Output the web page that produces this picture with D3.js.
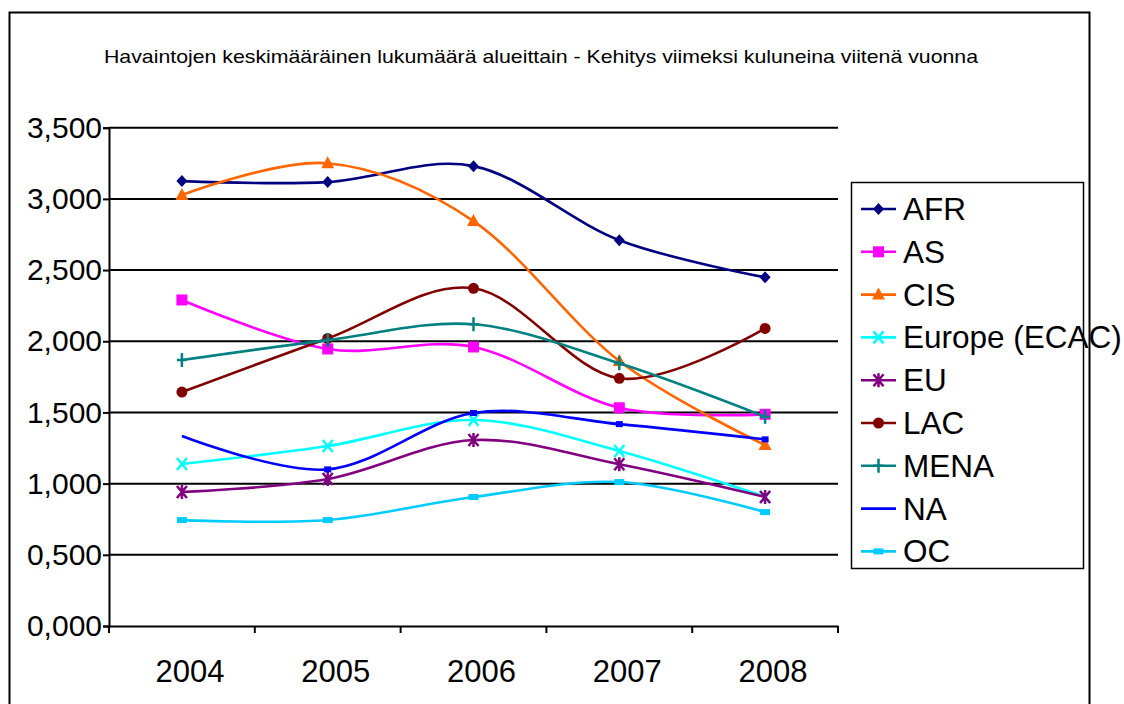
<!DOCTYPE html>
<html>
<head>
<meta charset="utf-8">
<script src="https://cdn.jsdelivr.net/npm/d3@7"></script>
<style>
  html, body { margin: 0; padding: 0; background: #fff; }
  svg { display: block; }
  text { font-family: "Liberation Sans", Arial, sans-serif; fill: #000; }
</style>
</head>
<body>
<svg id="chart" width="1124" height="704"></svg>
<script>
// ---- data (values in thousands, shown with "," as decimal separator) ----
const title = "Havaintojen keskimääräinen lukumäärä alueittain - Kehitys viimeksi kuluneina viitenä vuonna";
const years = ["2004", "2005", "2006", "2007", "2008"];
const yTicks = [0, 0.5, 1, 1.5, 2, 2.5, 3, 3.5];
const seriesNames = ["AFR", "AS", "CIS", "Europe (ECAC)", "EU", "LAC", "MENA", "NA", "OC"];
const AFR    = [3.125, 3.118, 3.230, 2.710, 2.449];
const AS     = [2.290, 1.946, 1.960, 1.533, 1.487];
const CIS    = [3.027, 3.250, 2.844, 1.861, 1.271];
const EUROPE = [1.138, 1.264, 1.447, 1.229, 0.906];
const EU     = [0.941, 1.032, 1.306, 1.136, 0.906];
const LAC    = [1.643, 2.020, 2.372, 1.740, 2.090];
const MENA   = [1.868, 2.008, 2.119, 1.845, 1.470];
const NA     = [1.334, 1.100, 1.496, 1.418, 1.311];
const OC     = [0.744, 0.744, 0.906, 1.011, 0.800];
const seriesValues = [AFR, AS, CIS, EUROPE, EU, LAC, MENA, NA, OC];

// ---- styles ----
const colors  = ["#000080", "#FF00FF", "#FF6600", "#00FFFF", "#800080", "#800000", "#008080", "#0000FF", "#00CCFF"];
const markers = ["diamond", "square", "triangle", "x", "star", "circle", "plus", "smalldash", "dash"];

const svg = d3.select("#chart");

// outer chart border
svg.append("rect").attr("x", 9.5).attr("y", 12.5).attr("width", 1080).attr("height", 720)
  .attr("fill", "none").attr("stroke", "#000").attr("stroke-width", 2);

// title
svg.append("text").attr("x", 104).attr("y", 63).attr("font-size", 19)
  .attr("textLength", 874).attr("lengthAdjust", "spacingAndGlyphs").text(title);

const plot = { left: 109, right: 838, top: 127.7, bottom: 626 };

const x = d3.scaleBand().domain(years).range([plot.left, plot.right]);
const y = d3.scaleLinear().domain([0, 3.5]).range([plot.bottom, plot.top]);
const fmt = v => d3.format(".3f")(v).replace(".", ",");

// gridlines
svg.append("g").selectAll("line").data(yTicks.filter(t => t > 0)).join("line")
  .attr("x1", plot.left).attr("x2", plot.right)
  .attr("y1", d => y(d)).attr("y2", d => y(d))
  .attr("stroke", "#000").attr("stroke-width", 2);

// y axis
const yAxis = svg.append("g").attr("transform", `translate(${plot.left},0)`)
  .call(d3.axisLeft(y).tickValues(yTicks).tickFormat(fmt).tickSize(6).tickPadding(1));
yAxis.select(".domain").attr("stroke", "#000").attr("stroke-width", 2);
yAxis.selectAll(".tick line").attr("stroke", "#000").attr("stroke-width", 2);
yAxis.selectAll("text").attr("font-size", 30).attr("font-family", "Liberation Sans, Arial, sans-serif").attr("fill", "#000");

// x axis
const xAxis = svg.append("g").attr("transform", `translate(0,${plot.bottom})`)
  .call(d3.axisBottom(x).tickSize(0).tickPadding(34));
xAxis.select(".domain").attr("stroke", "#000").attr("stroke-width", 2);
xAxis.selectAll("text").attr("font-size", 31).attr("dx", 8)
  .attr("font-family", "Liberation Sans, Arial, sans-serif").attr("fill", "#000");
// category boundary ticks
const bounds = years.map(yr => x(yr)).concat([x(years[years.length - 1]) + x.bandwidth()]);
svg.append("g").selectAll("line").data(bounds).join("line")
  .attr("x1", d => d).attr("x2", d => d)
  .attr("y1", plot.bottom).attr("y2", plot.bottom + 7)
  .attr("stroke", "#000").attr("stroke-width", 2);

// marker drawing
function drawMarker(g, type, cx, cy, color) {
  switch (type) {
    case "diamond":
      g.append("path").attr("d", `M${cx},${cy - 6}L${cx + 5.5},${cy}L${cx},${cy + 6}L${cx - 5.5},${cy}Z`).attr("fill", color);
      break;
    case "square":
      g.append("rect").attr("x", cx - 5.5).attr("y", cy - 5.5).attr("width", 11).attr("height", 11).attr("fill", color);
      break;
    case "triangle":
      g.append("path").attr("d", `M${cx},${cy - 7}L${cx + 6.5},${cy + 5}L${cx - 6.5},${cy + 5}Z`).attr("fill", color);
      break;
    case "circle":
      g.append("circle").attr("cx", cx).attr("cy", cy).attr("r", 5.5).attr("fill", color);
      break;
    case "x":
      g.append("path").attr("d", `M${cx - 5},${cy - 6}L${cx + 5},${cy + 6}M${cx + 5},${cy - 6}L${cx - 5},${cy + 6}`)
        .attr("stroke", color).attr("stroke-width", 2.5).attr("fill", "none");
      break;
    case "star":
      g.append("path").attr("d", `M${cx - 5},${cy - 6}L${cx + 5},${cy + 6}M${cx + 5},${cy - 6}L${cx - 5},${cy + 6}M${cx},${cy - 7}L${cx},${cy + 7}`)
        .attr("stroke", color).attr("stroke-width", 2.5).attr("fill", "none");
      break;
    case "plus":
      g.append("path").attr("d", `M${cx},${cy - 7}L${cx},${cy + 7}M${cx - 5},${cy}L${cx + 5},${cy}`)
        .attr("stroke", color).attr("stroke-width", 2.5).attr("fill", "none");
      break;
    case "dash":
      g.append("rect").attr("x", cx - 5).attr("y", cy - 3).attr("width", 10).attr("height", 6).attr("fill", color);
      break;
    case "smalldash":
      g.append("rect").attr("x", cx - 3.5).attr("y", cy - 3).attr("width", 7).attr("height", 6).attr("fill", color);
      break;
  }
}

// lines
const line = d3.line()
  .x((d, i) => x(years[i]) + x.bandwidth() / 2)
  .y(d => y(d))
  .curve(d3.curveCardinal.tension(0));

const series = svg.append("g");
seriesValues.forEach((vals, si) => {
  const g = series.append("g");
  g.append("path").attr("d", line(vals)).attr("fill", "none")
    .attr("stroke", colors[si]).attr("stroke-width", 2.6).attr("stroke-linejoin", "round");
  vals.forEach((v, i) => {
    if (markers[si] === "smalldash" && i === 0) return;
    drawMarker(g, markers[si], x(years[i]) + x.bandwidth() / 2, y(v), colors[si]);
  });
});

// legend
const leg = { x: 851, y: 182, w: 232, h: 386, row0: 209, step: 42.8 };
svg.append("rect").attr("x", leg.x + 0.5).attr("y", leg.y + 0.5).attr("width", leg.w).attr("height", leg.h)
  .attr("fill", "#fff").attr("stroke", "#000").attr("stroke-width", 1.5);
seriesNames.forEach((name, si) => {
  const cy = leg.row0 + si * leg.step;
  const g = svg.append("g");
  g.append("line").attr("x1", 861).attr("x2", 896).attr("y1", cy).attr("y2", cy)
    .attr("stroke", colors[si]).attr("stroke-width", 2.6);
  if (markers[si] !== "smalldash") drawMarker(g, markers[si], 878.5, cy, colors[si]);
  g.append("text").attr("x", 903).attr("y", cy + 11).attr("font-size", 31.5).text(name);
});
</script>
</body>
</html>
